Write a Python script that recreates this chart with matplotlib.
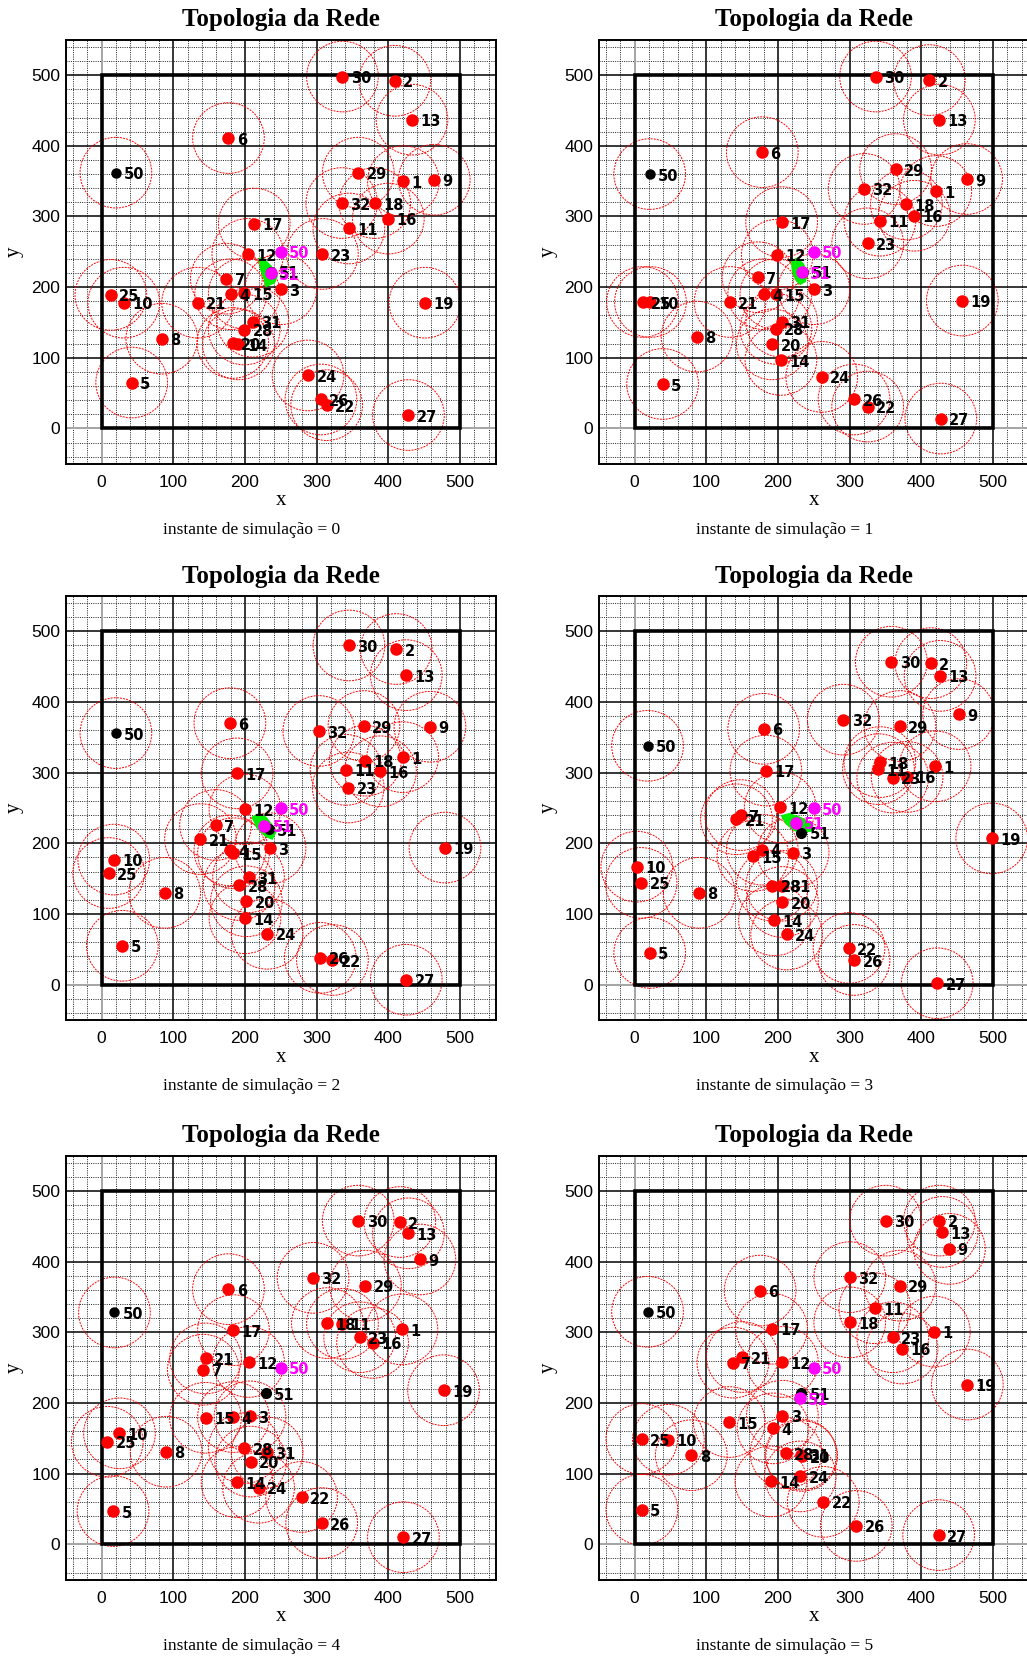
import numpy as np
import matplotlib
matplotlib.use('Agg')
import matplotlib.pyplot as plt
from matplotlib.patches import Circle, Rectangle, Polygon

# ids of the sensor nodes (red)
node_ids = list(range(1, 33))

# positions of nodes 1..32 at each simulation instant
x_t0 = [421, 409, 250, 180, 42, 177, 174, 84, 464, 31, 345, 204, 433, 191, 199, 400,
        213, 381, 451, 183, 134, 314, 308, 288, 13, 306, 428, 199, 358, 336, 211, 335]
y_t0 = [350, 492, 197, 190, 65, 411, 212, 127, 352, 178, 283, 247, 437, 119, 191, 297,
        290, 319, 178, 121, 178, 33, 247, 75, 189, 41, 19, 140, 362, 498, 151, 319]

x_t1 = [420, 411, 250, 180, 39, 178, 172, 87, 463, 22, 342, 199, 425, 204, 197, 390,
        205, 379, 457, 192, 133, 325, 325, 261, 11, 306, 427, 197, 364, 336, 205, 320]
y_t1 = [336, 493, 197, 190, 63, 391, 214, 130, 353, 179, 294, 246, 437, 97, 190, 301,
        292, 317, 181, 119, 179, 31, 262, 73, 179, 41, 14, 141, 367, 498, 151, 339]

x_t2 = [420, 411, 235, 179, 29, 179, 159, 88, 458, 17, 341, 200, 425, 200, 184, 389,
        189, 368, 479, 202, 138, 322, 344, 231, 10, 305, 425, 192, 366, 345, 205, 303]
y_t2 = [322, 475, 193, 190, 55, 370, 226, 130, 365, 177, 304, 248, 438, 94, 186, 302,
        299, 317, 194, 118, 206, 35, 279, 72, 158, 38, 7, 141, 366, 480, 152, 359]

x_t3 = [419, 413, 221, 178, 21, 180, 148, 90, 452, 3, 340, 203, 426, 195, 165, 380,
        183, 342, 498, 206, 142, 299, 360, 212, 9, 306, 422, 192, 370, 358, 205, 291]
y_t3 = [309, 455, 187, 191, 45, 362, 240, 130, 383, 167, 305, 251, 437, 91, 182, 294,
        303, 315, 207, 117, 234, 52, 293, 71, 144, 35, 2, 140, 366, 457, 140, 375]

x_t4 = [419, 416, 207, 184, 16, 177, 142, 90, 444, 25, 336, 205, 428, 189, 145, 378,
        184, 315, 477, 208, 145, 279, 360, 219, 8, 307, 421, 199, 368, 358, 231, 295]
y_t4 = [304, 456, 181, 180, 47, 361, 247, 131, 403, 157, 312, 258, 440, 88, 179, 285,
        303, 313, 218, 117, 263, 67, 293, 80, 145, 30, 10, 136, 366, 458, 130, 377]

x_t5 = [418, 425, 206, 193, 10, 175, 137, 79, 439, 47, 335, 206, 429, 190, 132, 373,
        191, 300, 464, 233, 150, 263, 360, 231, 10, 309, 424, 211, 370, 350, 232, 300]
y_t5 = [301, 458, 182, 164, 49, 359, 257, 126, 418, 148, 334, 258, 442, 89, 173, 277,
        305, 314, 226, 125, 265, 60, 293, 96, 149, 26, 13, 129, 366, 458, 127, 378]

xs = [x_t0, x_t1, x_t2, x_t3, x_t4, x_t5]
ys = [y_t0, y_t1, y_t2, y_t3, y_t4, y_t5]

# black node 50 (with range circle) and black node 51
n50_x = [20, 21, 20, 18, 18, 18]
n50_y = [362, 360, 356, 338, 328, 329]
n51_x = [236, 235, 233, 232, 229, 232]
n51_y = [222, 222, 220, 215, 214, 214]
# magenta markers
m50_x = [250, 250, 250, 250, 250, 250]
m50_y = [250, 250, 250, 250, 250, 250]
m51_x = [236, 233, 227, 225, np.nan, 230]
m51_y = [220, 221, 225, 229, np.nan, 207]

# green trail area near node 51
g_x = [[220, 224, 236, 245, 241, 229, 227, 222],
       [219, 227, 235, 241, 238, 231, 225, 220],
       [210, 220, 229, 236, 243, 238, 229, 217],
       [205, 216, 232, 245, 249, 237, 223, 211],
       [],
       [223, 228, 233, 233, 228, 223]]
g_y = [[240, 242, 230, 216, 206, 201, 211, 225],
       [237, 241, 233, 220, 208, 204, 210, 223],
       [237, 242, 237, 228, 216, 206, 210, 222],
       [239, 242, 236, 228, 218, 216, 218, 228],
       [],
       [207, 212, 209, 204, 201, 204]]

RADIUS = 50

W, H = 1027, 1659
fig = plt.figure(figsize=(W / 100, H / 100), dpi=100)

col_left = [65.7, 598.8]
row_top = [39.8, 596.0, 1155.6]
ax_w, ax_h = 430.2, 424.0

serif = 'Liberation Serif'
sans = 'Liberation Sans'
lbl_kw = dict(textcoords='offset points', xytext=(6, -1.5), fontsize=10.5,
              fontweight='bold', family='DejaVu Sans', va='center', ha='left')

for k in range(6):
    r, c = divmod(k, 2)
    L, T = col_left[c], row_top[r]
    ax = fig.add_axes([L / W, 1 - (T + ax_h) / H, ax_w / W, ax_h / H])
    ax.set_xlim(-50, 550)
    ax.set_ylim(-50, 550)
    ax.set_xticks(np.arange(0, 501, 100))
    ax.set_yticks(np.arange(0, 501, 100))
    ax.set_xticks(np.arange(-40, 541, 20), minor=True)
    ax.set_yticks(np.arange(-40, 541, 20), minor=True)
    ax.grid(which='major', color='black', lw=1.1, ls='-')
    ax.grid(which='minor', color='#222222', lw=0.7, ls=(0, (1, 1.3)))
    ax.set_axisbelow(True)
    ax.tick_params(which='both', length=0)
    ax.tick_params(axis='x', pad=8)
    ax.tick_params(axis='y', pad=4)
    for t in ax.get_xticklabels() + ax.get_yticklabels():
        t.set_fontfamily(sans)
        t.set_fontsize(12.5)
    for s in ax.spines.values():
        s.set_linewidth(1.4)

    ax.axhline(0, color='#aaaaaa', lw=1.4, zorder=1)
    ax.axvline(0, color='#aaaaaa', lw=1.4, zorder=1)
    ax.add_patch(Rectangle((0, 0), 500, 500, fill=False, ec='black', lw=2.6, zorder=3))

    px, py = xs[k], ys[k]
    for x, y in zip(px, py):
        ax.add_patch(Circle((x, y), RADIUS, fill=False, ec='red', lw=0.7,
                            ls=(0, (2, 1.2)), zorder=2))
    ax.add_patch(Circle((n50_x[k], n50_y[k]), RADIUS, fill=False, ec='red', lw=0.7,
                        ls=(0, (2, 1.2)), zorder=2))

    if len(g_x[k]) > 0:
        ax.add_patch(Polygon(np.column_stack([g_x[k], g_y[k]]), closed=True,
                             fc='#00ee00', ec='#00ee00', lw=1, zorder=4))

    ax.plot(px, py, 'o', color='red', ms=8, zorder=5)
    ax.plot(n50_x[k], n50_y[k], 'o', color='black', ms=6.5, zorder=5)
    ax.plot(n51_x[k], n51_y[k], 'o', color='black', ms=7, zorder=5)
    ax.plot(m50_x[k], m50_y[k], 'o', color='#ff00ff', ms=8, zorder=5)
    ax.plot(m51_x[k], m51_y[k], 'o', color='#ff00ff', ms=8, zorder=5)

    for nid, x, y in zip(node_ids, px, py):
        ax.annotate(str(nid), (x, y), color='black', zorder=6, **lbl_kw)
    ax.annotate('50', (n50_x[k], n50_y[k]), color='black', zorder=6, **lbl_kw)
    ax.annotate('51', (n51_x[k], n51_y[k]), color='black', zorder=6, **lbl_kw)
    ax.annotate('50', (m50_x[k], m50_y[k]), color='#ff00ff', zorder=6, **lbl_kw)
    if not np.isnan(m51_x[k]):
        ax.annotate('51', (m51_x[k], m51_y[k]), color='#ff00ff', zorder=6, **lbl_kw)

    cx = L + ax_w / 2
    fig.text(cx / W, 1 - (T - 20) / H, 'Topologia da Rede', ha='center', va='center',
             fontsize=18, fontweight='bold', family=serif)
    fig.text(cx / W, 1 - (T + ax_h + 37) / H, 'x', ha='center', va='center',
             fontsize=15, family=serif)
    fig.text((L - 51) / W, 1 - (T + ax_h / 2) / H, 'y', ha='center', va='center',
             fontsize=15, family=serif, rotation=90)
    fig.text((L + 186) / W, 1 - (T + ax_h + 66) / H,
             'instante de simulação = %d' % k, ha='center', va='center',
             fontsize=12.5, family=serif)

fig.savefig('out.png', dpi=100)
